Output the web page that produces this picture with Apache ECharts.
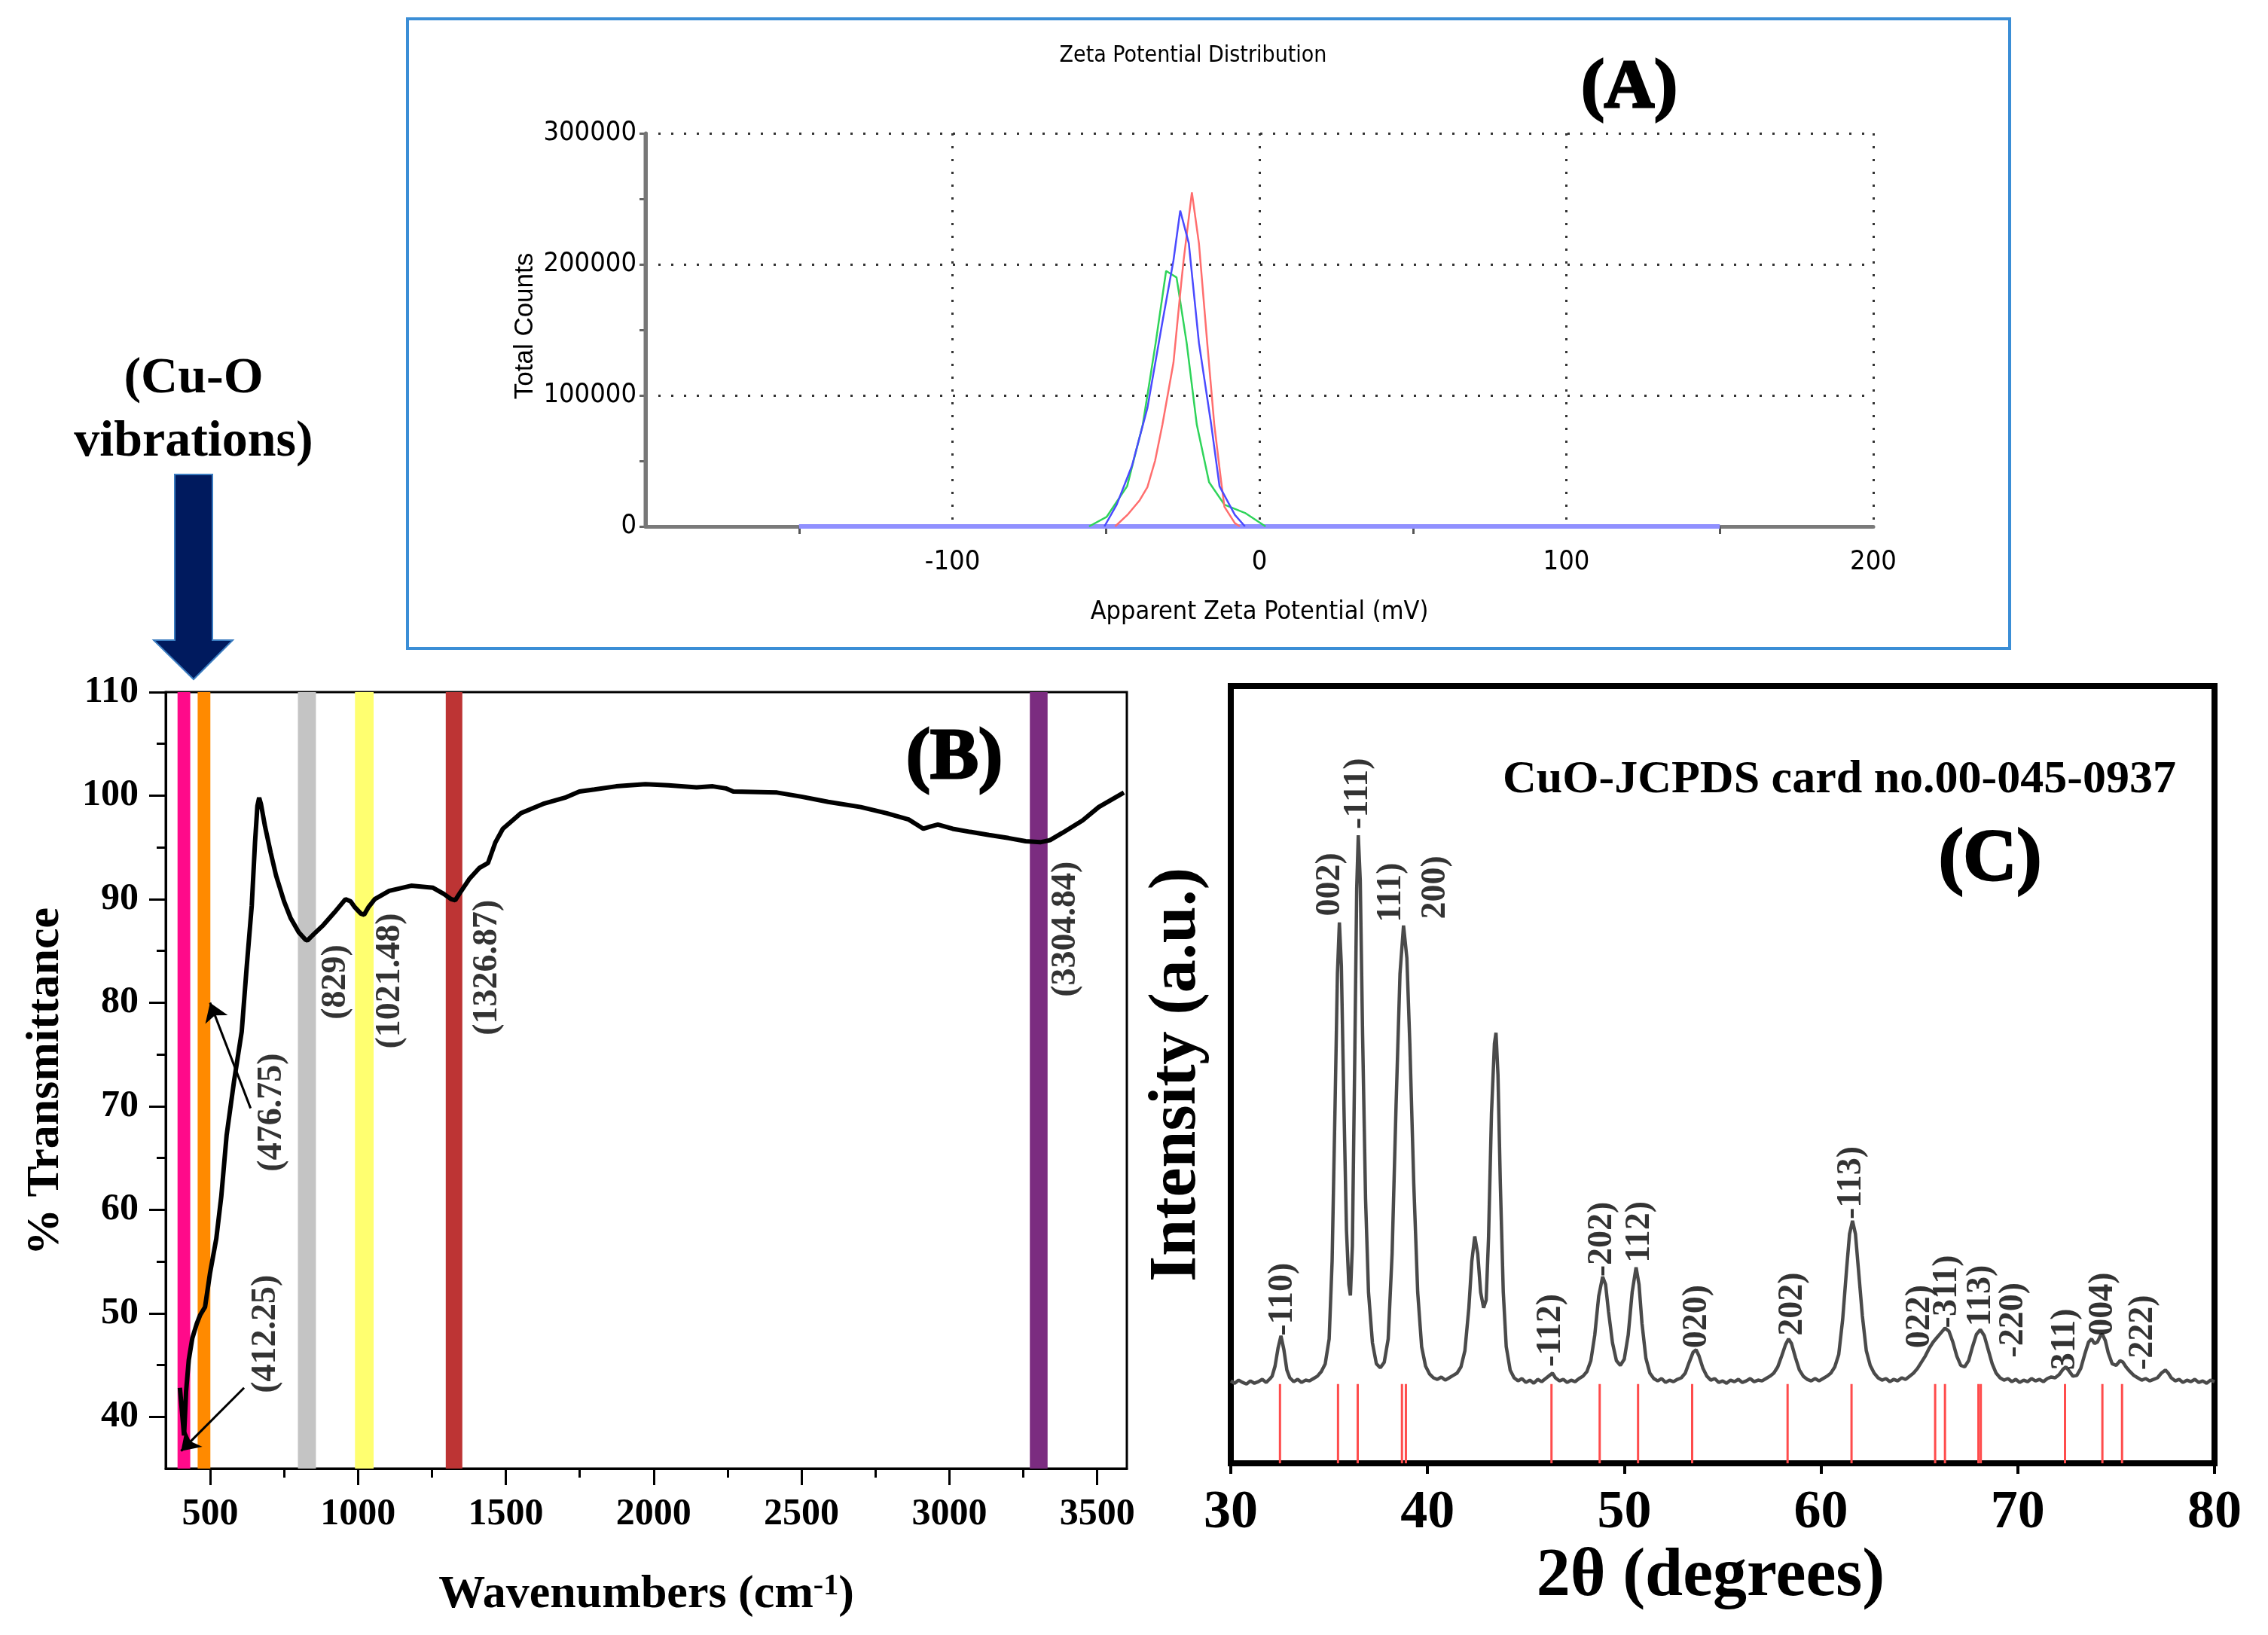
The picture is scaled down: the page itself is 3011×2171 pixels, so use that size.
<!DOCTYPE html>
<html>
<head>
<meta charset="utf-8">
<title>CuO: zeta potential, FTIR and XRD</title>
<script src="https://cdn.jsdelivr.net/npm/echarts@6.0.0/dist/echarts.min.js"></script>
<style>
  html, body { margin: 0; padding: 0; background: #fff; }
  #main { width: 3011px; height: 2171px; }
</style>
</head>
<body>
<div id="main"></div>
<script>
'use strict';

// ---- (A) zeta potential distribution, [mV, total counts] ----
var zetaRed = [[-47, 0], [-43, 8800], [-39, 20000], [-36.5, 30000], [-34, 50000], [-31.6, 77700], [-28, 125000],
  [-25.5, 185000], [-24.7, 203000], [-22, 255000], [-19.7, 216000], [-17, 140000], [-14.7, 77700],
  [-12.5, 35000], [-11.4, 15000], [-8, 2500], [-6.4, 0]];
var zetaBlue = [[-50.5, 0], [-46.5, 16600], [-41.5, 46400], [-36.5, 90300], [-31.6, 156000], [-28, 203000],
  [-25.8, 241000], [-23, 216000], [-19.7, 140000], [-15.7, 77700], [-13, 30700], [-8, 8800], [-4.7, 0]];
var zetaGreen = [[-55.5, 0], [-49.8, 7200], [-43.1, 30700], [-38, 77700], [-33.8, 140000], [-30.4, 195000],
  [-27, 190000], [-23.7, 140000], [-20.4, 77700], [-16.4, 33800], [-11.4, 16600], [-4.7, 10300], [2, 0]];
var zetaBase = [[-150, 0], [150, 0]];
var zetaXMin = -200, zetaXMax = 200, zetaYMax = 300000;

// ---- (B) FTIR, wavenumber (cm-1) / % transmittance ----
var ftirWave = [398, 405, 412, 419, 428, 440, 455, 466, 483, 500, 521, 538, 556, 581, 607, 624, 641, 652, 660,
  666, 672, 686, 705, 723, 750, 772, 800, 822, 829, 850, 883, 920, 958, 975, 990, 1010, 1021, 1035, 1057,
  1106, 1150, 1180, 1220, 1254, 1291, 1315, 1329, 1345, 1378, 1410, 1440, 1465, 1490, 1551, 1626, 1700,
  1749, 1800, 1873, 1972, 2050, 2145, 2200, 2244, 2269, 2417, 2500, 2590, 2700, 2788, 2862, 2890, 2912,
  2935, 2961, 3011, 3070, 3134, 3200, 3258, 3307, 3340, 3382, 3450, 3505, 3590];
var ftirTrans = [42.8, 40.5, 38.2, 42.5, 45.5, 47.6, 49.0, 49.8, 50.6, 53.9, 57.2, 61.3, 67.2, 72.4, 77.2, 83.5,
  89.4, 95.5, 99.0, 99.8, 99.2, 97.0, 94.5, 92.3, 89.8, 88.2, 86.8, 86.1, 86.0, 86.6, 87.5, 88.7, 90.0, 89.8,
  89.2, 88.6, 88.5, 89.2, 90.0, 90.8, 91.1, 91.3, 91.2, 91.1, 90.5, 90.0, 89.9, 90.6, 92.0, 93.0, 93.5, 95.5,
  96.8, 98.3, 99.2, 99.8, 100.4, 100.6, 100.9, 101.1, 101.0, 100.8, 100.9, 100.7, 100.4, 100.3, 99.9, 99.4,
  98.9, 98.3, 97.7, 97.2, 96.8, 97.0, 97.2, 96.8, 96.5, 96.2, 95.9, 95.6, 95.5, 95.7, 96.4, 97.6, 98.9, 100.3];
var ftirBands = [[390, 433], [458, 501], [797, 858], [990, 1053], [1297, 1353], [3272, 3332]];
var ftirBandColors = ['#ff0a8a', '#ff8a00', '#c4c4c4', '#ffff70', '#bd3434', '#7b2c80'];
var ftirNotes = ['(412.25)', '(476.75)', '(829)', '(1021.48)', '(1326.87)', '(3304.84)'];
var ftirNoteX = [688, 709, 927, 1110, 1438, 3394];
var ftirNoteY = [48, 69.4, 82, 82.1, 83.4, 87.1];
var ftirXTicks = [500, 1000, 1500, 2000, 2500, 3000, 3500];
var ftirXMinor = [750, 1250, 1750, 2250, 2750, 3250];
var ftirYTicks = [40, 50, 60, 70, 80, 90, 100, 110];
var ftirYMinor = [45, 55, 65, 75, 85, 95, 105];

// ---- (C) XRD pattern, [2theta, intensity a.u.] ----
var xrdPattern = [
  [30.0, 10.6], [30.2, 10.3], [30.4, 10.7], [30.6, 10.4], [30.8, 10.2], [31.0, 10.6], [31.2, 10.3], [31.4, 10.5],
  [31.6, 10.8], [31.8, 10.4], [32.0, 10.9], [32.1, 11.2], [32.25, 12.5], [32.4, 14.8], [32.55, 16.4], [32.7, 14.6],
  [32.85, 12.0], [33.0, 11.0], [33.2, 10.5], [33.4, 10.8], [33.6, 10.4], [33.8, 10.7], [34.0, 10.6], [34.2, 10.9],
  [34.4, 11.2], [34.6, 11.8], [34.8, 12.8], [35.0, 16], [35.15, 26], [35.3, 46], [35.42, 63], [35.52, 69.6],
  [35.62, 64], [35.75, 46], [35.88, 30], [36.0, 23], [36.08, 21.6], [36.18, 28], [36.3, 52], [36.4, 74],
  [36.48, 80.8], [36.58, 75], [36.7, 55], [36.85, 34], [37.0, 22], [37.2, 15.5], [37.4, 12.8], [37.6, 12.3],
  [37.8, 13], [38.0, 16], [38.2, 27], [38.4, 46], [38.6, 63], [38.78, 69.2], [38.95, 65], [39.1, 54], [39.3, 36],
  [39.5, 22], [39.7, 15], [39.9, 12.5], [40.1, 11.5], [40.3, 11], [40.5, 10.8], [40.7, 11.1], [40.9, 10.7],
  [41.1, 11], [41.3, 11.3], [41.5, 11.6], [41.7, 12.4], [41.9, 14.5], [42.1, 20], [42.25, 26], [42.4, 29.2],
  [42.55, 27], [42.7, 22], [42.85, 20], [42.98, 21], [43.1, 29], [43.25, 45], [43.4, 54], [43.48, 55.4],
  [43.58, 50], [43.7, 36], [43.85, 22], [44.0, 15], [44.2, 12], [44.4, 11], [44.6, 10.6], [44.8, 10.9],
  [45.0, 10.4], [45.2, 10.7], [45.4, 10.3], [45.6, 10.8], [45.8, 10.5], [46.0, 10.9], [46.2, 11.3], [46.35, 11.6],
  [46.5, 11.0], [46.7, 10.6], [46.9, 10.8], [47.1, 10.4], [47.3, 10.7], [47.5, 10.5], [47.7, 10.9], [47.9, 11.2],
  [48.1, 11.8], [48.3, 13.2], [48.5, 16.5], [48.7, 21.5], [48.9, 24], [49.05, 23], [49.2, 19.5], [49.4, 15.5],
  [49.6, 13.2], [49.8, 12.6], [50.0, 13.4], [50.2, 16.5], [50.4, 22], [50.6, 25.2], [50.75, 23], [50.9, 18],
  [51.1, 13.5], [51.3, 11.6], [51.5, 10.9], [51.7, 10.6], [51.9, 10.9], [52.1, 10.4], [52.3, 10.7], [52.5, 10.5],
  [52.7, 10.8], [52.9, 11.0], [53.1, 11.6], [53.3, 13.0], [53.5, 14.3], [53.65, 14.6], [53.8, 13.8], [54.0, 12.2],
  [54.2, 11.2], [54.4, 10.7], [54.6, 10.9], [54.8, 10.4], [55.0, 10.6], [55.2, 10.3], [55.4, 10.7], [55.6, 10.5],
  [55.8, 10.8], [56.0, 10.4], [56.2, 10.6], [56.4, 10.9], [56.6, 10.5], [56.8, 10.7], [57.0, 10.6], [57.2, 10.9],
  [57.4, 11.2], [57.6, 11.6], [57.8, 12.4], [58.0, 13.8], [58.2, 15.3], [58.35, 16.0], [58.5, 15.4], [58.7, 13.6],
  [58.9, 12.0], [59.1, 11.2], [59.3, 10.8], [59.5, 10.6], [59.7, 10.9], [59.9, 10.6], [60.1, 10.9], [60.3, 11.2],
  [60.5, 11.6], [60.7, 12.4], [60.9, 14.0], [61.1, 18.5], [61.3, 25], [61.45, 29.5], [61.6, 31.2], [61.75, 29.5],
  [61.9, 25], [62.1, 19], [62.3, 14.5], [62.5, 12.6], [62.7, 11.6], [62.9, 11.0], [63.1, 10.7], [63.3, 10.9],
  [63.5, 10.5], [63.7, 10.8], [63.9, 10.6], [64.1, 11.0], [64.3, 10.8], [64.5, 11.2], [64.7, 11.6], [64.9, 12.2],
  [65.1, 13.0], [65.3, 13.8], [65.5, 14.8], [65.7, 15.6], [65.9, 16.2], [66.1, 16.8], [66.3, 17.4], [66.5, 17.0],
  [66.7, 15.6], [66.9, 13.8], [67.1, 12.6], [67.3, 12.4], [67.5, 13.2], [67.7, 15.0], [67.9, 16.6], [68.1, 17.2],
  [68.3, 16.4], [68.5, 14.6], [68.7, 12.8], [68.9, 11.6], [69.1, 11.0], [69.3, 10.7], [69.5, 10.9], [69.7, 10.5],
  [69.9, 10.8], [70.1, 10.4], [70.3, 10.7], [70.5, 10.5], [70.7, 10.9], [70.9, 10.6], [71.1, 10.8], [71.3, 10.5],
  [71.5, 10.9], [71.7, 11.1], [71.9, 11.0], [72.1, 11.4], [72.3, 12.1], [72.45, 12.4], [72.6, 11.9], [72.8, 11.2],
  [73.0, 11.3], [73.2, 12.2], [73.4, 14.0], [73.6, 15.6], [73.75, 16.0], [73.9, 15.4], [74.05, 15.6], [74.2, 16.4],
  [74.3, 16.6], [74.45, 15.8], [74.6, 14.2], [74.8, 12.8], [75.0, 12.6], [75.2, 13.2], [75.35, 13.0], [75.5, 12.4],
  [75.7, 11.8], [75.9, 11.3], [76.1, 11.0], [76.3, 10.7], [76.5, 10.9], [76.7, 10.6], [76.9, 10.8], [77.1, 11.0],
  [77.3, 11.6], [77.5, 12.0], [77.65, 11.6], [77.8, 11.0], [78.0, 10.6], [78.2, 10.8], [78.4, 10.4], [78.6, 10.7],
  [78.8, 10.5], [79.0, 10.8], [79.2, 10.4], [79.4, 10.6], [79.6, 10.3], [79.8, 10.7], [80.0, 10.5]];
// JCPDS 00-045-0937 reference positions (red sticks)
var refPeaks = [32.5, 35.45, 36.45, 38.7, 38.9, 46.3, 48.75, 50.7, 53.45, 58.3, 61.55, 65.8, 66.3, 68.0, 68.12, 72.4, 74.3, 75.3];
var refTop = 10.2;
var xrdLabels = ['-110)', '002)', '-111)', '111)', '200)', '-112)', '-202)', '112)', '020)', '202)', '-113)',
  '022)', '-311)', '113)', '-220)', '311)', '004)', '-222)'];
var xrdLabelX = [32.63, 35.04, 36.46, 38.14, 40.4, 46.28, 48.87, 50.8, 53.72, 58.58, 61.57, 65.04, 66.42, 68.14, 69.78, 72.41, 74.34, 76.35];
var xrdLabelY = [16.4, 70.4, 81.6, 69.6, 70, 12.4, 24, 25.8, 14.8, 16.4, 31.4, 14.8, 17.4, 17.6, 13.6, 12, 16.4, 12];

var serif = '"Liberation Serif","Times New Roman",serif';
var narrow = '"Liberation Sans Narrow","DejaVu Sans Condensed","Liberation Sans",sans-serif';
var sans = '"Liberation Sans",Arial,sans-serif';

function txt(text, x, y, font, opt) {
  opt = opt || {};
  return {
    type: 'text', x: x, y: y, rotation: opt.rotation || 0, z: 100,
    style: {
      text: text, font: font, fill: '#000', textAlign: 'center', textVerticalAlign: 'middle',
      stroke: opt.stroke || null, lineWidth: opt.lineWidth || 0, rich: opt.rich
    }
  };
}
function plain(v) { return String(v); }

var chart = echarts.init(document.getElementById('main'), null, { renderer: 'canvas' });

var ftirData = ftirWave.map(function (w, i) { return [w, ftirTrans[i]]; });
var ftirNoteData = ftirNotes.map(function (t, i) { return [ftirNoteX[i], ftirNoteY[i], t]; });
var xrdLabelData = xrdLabels.map(function (t, i) { return [xrdLabelX[i], xrdLabelY[i], t]; });

var dotted = { type: [3, 14], color: '#333', width: 3 };

var option = {
  animation: false,
  backgroundColor: '#fff',
  grid: [
    { left: 857, top: 177, width: 1630, height: 522 },
    { left: 220, top: 919, width: 1276, height: 1031, show: true, borderColor: '#000', borderWidth: 3, backgroundColor: 'transparent' },
    { left: 1634, top: 911, width: 1306, height: 1032, show: true, borderColor: '#000', borderWidth: 8, backgroundColor: 'transparent' }
  ],
  xAxis: [
    {
      gridIndex: 0, type: 'value', min: zetaXMin, max: zetaXMax, interval: 100, position: 'bottom',
      axisLine: { onZero: false, lineStyle: { color: '#7a7a7a', width: 5 } },
      axisTick: { show: false },
      minorTick: { show: true, splitNumber: 2, length: 10, lineStyle: { color: '#555', width: 3 } },
      axisLabel: { formatter: function (v) { return v === zetaXMin ? '' : String(v); }, fontSize: 36, fontFamily: narrow, color: '#000', margin: 30 },
      splitLine: { show: true, showMinLine: false, lineStyle: dotted }
    },
    {
      gridIndex: 1, type: 'value', min: 350, max: 3600, position: 'bottom',
      axisLine: { onZero: false, lineStyle: { color: '#000', width: 3 } },
      axisTick: { customValues: ftirXTicks, length: 22, lineStyle: { color: '#000', width: 3 } },
      axisLabel: { customValues: ftirXTicks, formatter: plain, fontSize: 50, fontWeight: 'bold', fontFamily: serif, color: '#000', margin: 36 },
      splitLine: { show: false }
    },
    {
      gridIndex: 1, type: 'value', min: 350, max: 3600, position: 'bottom',
      axisLine: { show: false, onZero: false },
      axisTick: { customValues: ftirXMinor, length: 12, lineStyle: { color: '#000', width: 3 } },
      axisLabel: { show: false },
      splitLine: { show: false }
    },
    {
      gridIndex: 2, type: 'value', min: 30, max: 80, interval: 10, position: 'bottom',
      axisLine: { onZero: false, lineStyle: { color: '#000', width: 8 } },
      axisTick: { length: 14, lineStyle: { color: '#000', width: 4 } },
      axisLabel: { fontSize: 72, fontWeight: 'bold', fontFamily: serif, color: '#000', margin: 30 },
      splitLine: { show: false }
    }
  ],
  yAxis: [
    {
      gridIndex: 0, type: 'value', min: 0, max: zetaYMax, interval: 100000, position: 'left',
      axisLine: { show: true, onZero: false, lineStyle: { color: '#777', width: 5 } },
      axisTick: { show: true, length: 8, lineStyle: { color: '#666', width: 3 } },
      minorTick: { show: true, splitNumber: 2, length: 8, lineStyle: { color: '#666', width: 3 } },
      axisLabel: { formatter: plain, fontSize: 36, fontFamily: narrow, color: '#000', margin: 12 },
      splitLine: { show: true, showMinLine: false, lineStyle: dotted }
    },
    {
      gridIndex: 1, type: 'value', min: 35, max: 110, position: 'left',
      axisLine: { show: true, onZero: false, lineStyle: { color: '#000', width: 3 } },
      axisTick: { show: true, customValues: ftirYTicks, length: 22, lineStyle: { color: '#000', width: 3 } },
      axisLabel: { customValues: ftirYTicks, formatter: plain, fontSize: 50, fontWeight: 'bold', fontFamily: serif, color: '#000', margin: 36 },
      splitLine: { show: false }
    },
    {
      gridIndex: 1, type: 'value', min: 35, max: 110, position: 'left',
      axisLine: { show: false, onZero: false },
      axisTick: { show: true, customValues: ftirYMinor, length: 12, lineStyle: { color: '#000', width: 3 } },
      axisLabel: { show: false },
      splitLine: { show: false }
    },
    { gridIndex: 2, type: 'value', min: 0, max: 100, show: false }
  ],
  series: [
    // (A)
    { type: 'line', xAxisIndex: 0, yAxisIndex: 0, data: zetaBase, showSymbol: false, lineStyle: { color: '#9090ff', width: 6 }, z: 3 },
    { type: 'line', xAxisIndex: 0, yAxisIndex: 0, data: zetaGreen, showSymbol: false, lineStyle: { color: '#2fd45a', width: 2.5 }, z: 4 },
    { type: 'line', xAxisIndex: 0, yAxisIndex: 0, data: zetaRed, showSymbol: false, lineStyle: { color: '#ff6e6e', width: 2.5 }, z: 5 },
    { type: 'line', xAxisIndex: 0, yAxisIndex: 0, data: zetaBlue, showSymbol: false, lineStyle: { color: '#4a4aff', width: 2.5 }, z: 6 },
    // (B) coloured bands
    {
      type: 'line', xAxisIndex: 1, yAxisIndex: 1, data: [], z: 1, silent: true,
      markArea: {
        silent: true,
        data: ftirBands.map(function (b, i) {
          return [{ xAxis: b[0], itemStyle: { color: ftirBandColors[i], opacity: 1 } }, { xAxis: b[1] }];
        })
      }
    },
    { type: 'line', xAxisIndex: 1, yAxisIndex: 1, data: ftirData, showSymbol: false, lineStyle: { color: '#000', width: 6 }, z: 5 },
    {
      type: 'scatter', xAxisIndex: 1, yAxisIndex: 1, data: ftirNoteData, symbolSize: 0.1,
      itemStyle: { color: 'rgba(0,0,0,0)' }, z: 6,
      label: {
        show: true, position: 'inside', rotate: 90, align: 'center', verticalAlign: 'middle',
        formatter: function (p) { return p.data[2]; },
        fontSize: 46, fontWeight: 'bold', fontFamily: serif, color: '#000'
      },
      markLine: {
        silent: true, symbol: ['none', 'arrow'], symbolSize: 24,
        lineStyle: { color: '#000', width: 3, type: 'solid' }, label: { show: false },
        data: [
          [{ coord: [637, 69.8] }, { coord: [500, 80] }],
          [{ coord: [615, 42.8] }, { coord: [402, 36.7] }]
        ]
      }
    },
    // (C)
    {
      type: 'custom', xAxisIndex: 3, yAxisIndex: 3, z: 2,
      data: refPeaks.map(function (x) { return [x, refTop]; }),
      renderItem: function (params, api) {
        var p0 = api.coord([api.value(0), 0]);
        var p1 = api.coord([api.value(0), api.value(1)]);
        return { type: 'line', shape: { x1: p0[0], y1: p0[1], x2: p1[0], y2: p1[1] }, style: { stroke: '#ff4c4c', lineWidth: 3 } };
      }
    },
    { type: 'line', xAxisIndex: 3, yAxisIndex: 3, data: xrdPattern, showSymbol: false, lineStyle: { color: '#4a4a4a', width: 4.5 }, z: 3 },
    {
      type: 'scatter', xAxisIndex: 3, yAxisIndex: 3, data: xrdLabelData, symbolSize: 0.1,
      itemStyle: { color: 'rgba(0,0,0,0)' }, z: 6,
      label: {
        show: true, position: 'inside', rotate: 90, align: 'left', verticalAlign: 'middle',
        formatter: function (p) { return p.data[2]; },
        fontSize: 46, fontWeight: 'bold', fontFamily: serif, color: '#000'
      }
    }
  ],
  graphic: [
    { type: 'rect', shape: { x: 541, y: 25, width: 2127, height: 836 }, style: { fill: 'none', stroke: '#3b8ed6', lineWidth: 4 }, z: 90 },
    txt('Zeta Potential Distribution', 1584, 74, '30px ' + narrow),
    txt('(A)', 2163, 118, 'bold 92px ' + serif, { stroke: '#000', lineWidth: 3 }),
    txt('Total Counts', 697, 433, '35px ' + sans, { rotation: Math.PI / 2 }),
    txt('Apparent Zeta Potential (mV)', 1672, 813, '34px ' + narrow),
    txt('% Transmittance', 61, 1436, 'bold 62px ' + serif, { rotation: Math.PI / 2 }),
    txt('{a|Wavenumbers (cm}{s|-1}{a|)}', 858, 2118, 'bold 62px ' + serif, {
      rich: {
        a: { fontSize: 62, fontWeight: 'bold', fontFamily: serif, fill: '#000', verticalAlign: 'bottom' },
        s: { fontSize: 40, fontWeight: 'bold', fontFamily: serif, fill: '#000', verticalAlign: 'top' }
      }
    }),
    txt('(B)', 1267, 1008, 'bold 96px ' + serif, { stroke: '#000', lineWidth: 3 }),
    txt('Intensity (a.u.)', 1563, 1427, 'bold 88px ' + serif, { rotation: Math.PI / 2 }),
    txt('2θ (degrees)', 2271, 2095, 'bold 90px ' + serif),
    txt('CuO-JCPDS card no.00-045-0937', 2442, 1036, 'bold 62px ' + serif),
    txt('(C)', 2642, 1143, 'bold 98px ' + serif, { stroke: '#000', lineWidth: 3 }),
    txt('(Cu-O', 257, 503, 'bold 68px ' + serif),
    txt('vibrations)', 257, 587, 'bold 68px ' + serif),
    {
      type: 'polygon', z: 100,
      shape: { points: [[232, 630], [282, 630], [282, 850], [309, 850], [257, 902], [204, 850], [232, 850]] },
      style: { fill: '#001a5e', stroke: '#3a7cc0', lineWidth: 2 }
    }
  ]
};

chart.setOption(option);

// left axis line of panel (A), placed through the chart's own scale
var pBottom = chart.convertToPixel({ xAxisIndex: 0, yAxisIndex: 0 }, [zetaXMin, 0]);
var pTop = chart.convertToPixel({ xAxisIndex: 0, yAxisIndex: 0 }, [zetaXMin, zetaYMax]);
chart.setOption({
  graphic: [{
    id: 'zetaLeftAxis', type: 'line', z: 95,
    shape: { x1: pBottom[0], y1: pBottom[1] + 2, x2: pTop[0], y2: pTop[1] },
    style: { stroke: '#777', lineWidth: 5 }
  }]
});
</script>
</body>
</html>
